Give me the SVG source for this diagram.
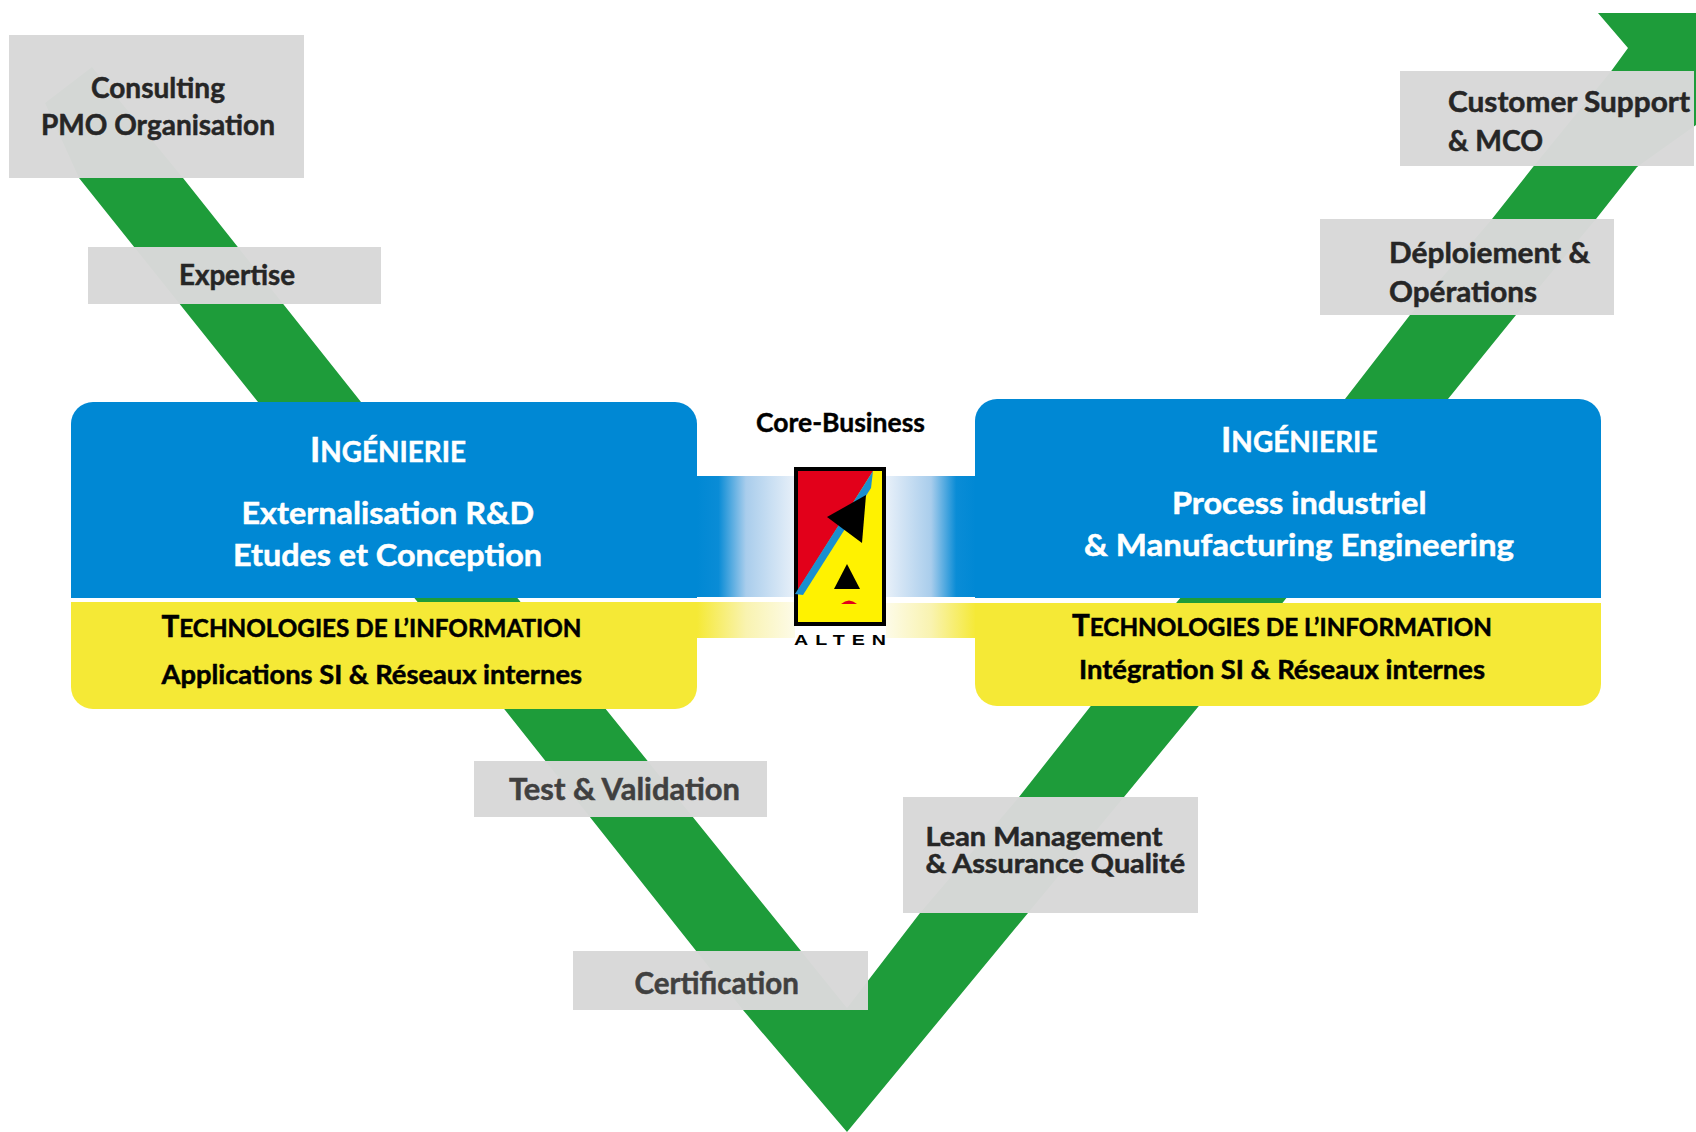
<svg xmlns="http://www.w3.org/2000/svg" width="1696" height="1132" viewBox="0 0 1696 1132">
<style>
text{font-family:"Lato","Carlito","Liberation Sans",sans-serif;font-weight:700;}
.box{fill:#d8d8d8;fill-opacity:.98;}
.bt{fill:#262626;stroke:#262626;stroke-width:.5px;font-size:29px;}
.lt{fill:#262626;stroke:#262626;stroke-width:.5px;font-size:26px;}
.gt{fill:#404040;stroke:#404040;stroke-width:.5px;font-size:31px;}
.w{fill:#fff;stroke:#fff;stroke-width:.5px;font-size:31px;}
.k{fill:#000;stroke:#000;stroke-width:.5px;font-size:26px;}
.h{fill:#fff;stroke:#fff;stroke-width:.5px;font-size:35px;}
.hs{font-size:28px;}
.t{fill:#000;stroke:#000;stroke-width:.5px;font-size:30px;}
.ts{font-size:24.5px;}
.blue{fill:#0088d4;}
.yel{fill:#f5e936;}
</style>
<defs>
<linearGradient id="bl" x1="0" x2="1" y1="0" y2="0"><stop offset="0" stop-color="#0088d4"/><stop offset=".22" stop-color="#0a8cd6"/><stop offset=".5" stop-color="#a9cdec"/><stop offset="1" stop-color="#e8f0f9"/></linearGradient>
<linearGradient id="br" x1="1" x2="0" y1="0" y2="0"><stop offset="0" stop-color="#0088d4"/><stop offset=".22" stop-color="#0a8cd6"/><stop offset=".5" stop-color="#a9cdec"/><stop offset="1" stop-color="#e8f0f9"/></linearGradient>
<linearGradient id="yl" x1="0" x2="1" y1="0" y2="0"><stop offset="0" stop-color="#f5e936"/><stop offset=".5" stop-color="#f9f3b0"/><stop offset="1" stop-color="#fdfbe8"/></linearGradient>
<linearGradient id="yr" x1="1" x2="0" y1="0" y2="0"><stop offset="0" stop-color="#f5e936"/><stop offset=".5" stop-color="#f9f3b0"/><stop offset="1" stop-color="#fdfbe8"/></linearGradient>
</defs>
<rect width="1696" height="1132" fill="#fff"/>
<g id="connectors">
<path id="v-arrow" fill="#1e9c3a" d="M92 67L45 103L79 178L258 402L416 600L505 710L743 1010L847 1132L1028 913L1124 797L1198 707L1448 399L1516 315L1596 219L1637 167L1696 125L1696 13L1598 13L1628 48L1612 70L1533 167L1492 219L1410 315L1345 399L1090 707L1019 797L920 913L847 1008L801 951L606.500 710L519 600L361 402L183 178Z"/>
</g>
<g id="band-links">
<rect x="697" y="476" width="98" height="121" fill="url(#bl)"/>
<rect x="886" y="476" width="90" height="121" fill="url(#br)"/>
<rect x="697" y="602" width="98" height="36" fill="url(#yl)"/>
<rect x="886" y="603" width="90" height="35" fill="url(#yr)"/>
</g>
<g id="panel-left-eng">
<path class="blue" d="M71 598V424a22 22 0 0 1 22-22H675a22 22 0 0 1 22 22V598Z"/>
<text class="h" x="310" y="462" textLength="156" lengthAdjust="spacingAndGlyphs">I<tspan class="hs">NGÉNIERIE</tspan></text>
<text class="w" x="241.500" y="524" textLength="292.500" lengthAdjust="spacingAndGlyphs">Externalisation R&amp;D</text>
<text class="w" x="233" y="566" textLength="309" lengthAdjust="spacingAndGlyphs">Etudes et Conception</text>
</g>
<g id="panel-left-it">
<path class="yel" d="M71 602H697V687a22 22 0 0 1-22 22H93a22 22 0 0 1-22-22Z"/>
<text class="t" x="161.500" y="637" textLength="420" lengthAdjust="spacingAndGlyphs">T<tspan class="ts">ECHNOLOGIES DE L’INFORMATION</tspan></text>
<text class="k" x="161.500" y="684" textLength="420.500" lengthAdjust="spacingAndGlyphs">Applications SI &amp; Réseaux internes</text>
</g>
<g id="panel-right-eng">
<path class="blue" d="M975 598V421a22 22 0 0 1 22-22H1579a22 22 0 0 1 22 22V598Z"/>
<text class="h" x="1221" y="452" textLength="156.500" lengthAdjust="spacingAndGlyphs">I<tspan class="hs">NGÉNIERIE</tspan></text>
<text class="w" x="1172" y="514" textLength="254.500" lengthAdjust="spacingAndGlyphs">Process industriel</text>
<text class="w" x="1084" y="556" textLength="430" lengthAdjust="spacingAndGlyphs">&amp; Manufacturing Engineering</text>
</g>
<g id="panel-right-it">
<path class="yel" d="M975 603H1601V684a22 22 0 0 1-22 22H997a22 22 0 0 1-22-22Z"/>
<text class="t" x="1072" y="636" textLength="420" lengthAdjust="spacingAndGlyphs">T<tspan class="ts">ECHNOLOGIES DE L’INFORMATION</tspan></text>
<text class="k" x="1079" y="679" textLength="406" lengthAdjust="spacingAndGlyphs">Intégration SI &amp; Réseaux internes</text>
</g>
<g id="logo">
<text x="756" y="432" fill="#000" stroke="#000" stroke-width=".4" font-size="26" textLength="169" lengthAdjust="spacingAndGlyphs">Core-Business</text>
<rect x="794" y="467" width="92" height="159" fill="#000"/>
<rect x="798" y="471" width="84" height="151" fill="#fff200"/>
<path fill="#e2001a" d="M798 471H873L798 590Z"/>
<path fill="#1a8fd0" d="M873 471L871 488L803 595L795 594Z"/>
<path fill="#000" d="M827 517L866 495L862 543Z"/>
<path fill="#000" d="M847 564L860 589H834Z"/>
<path fill="#e2001a" d="M841 604Q849 597 857 604Z"/>
<text x="794" y="645" fill="#000" style="font-family:'Liberation Sans',sans-serif" font-size="14" letter-spacing="5" textLength="99" lengthAdjust="spacingAndGlyphs">ALTEN</text>
</g>
<g id="box-consulting">
<rect class="box" x="9" y="35" width="295" height="143"/>
<text class="bt" x="91" y="98" textLength="134" lengthAdjust="spacingAndGlyphs">Consulting</text>
<text class="bt" x="41" y="135" textLength="234" lengthAdjust="spacingAndGlyphs">PMO Organisation</text>
</g>
<g id="box-expertise">
<rect class="box" x="88" y="247" width="293" height="57"/>
<text class="bt" x="179" y="285" textLength="116" lengthAdjust="spacingAndGlyphs">Expertise</text>
</g>
<g id="box-test">
<rect class="box" x="474" y="761" width="293" height="56"/>
<text class="gt" x="509" y="800" textLength="231" lengthAdjust="spacingAndGlyphs">Test &amp; Validation</text>
</g>
<g id="box-certification">
<rect class="box" x="573" y="951" width="295" height="59"/>
<text class="gt" x="634.500" y="994" textLength="164.500" lengthAdjust="spacingAndGlyphs">Certification</text>
</g>
<g id="box-lean">
<rect class="box" x="903" y="797" width="295" height="116"/>
<text class="lt" x="925.500" y="846" textLength="237" lengthAdjust="spacingAndGlyphs">Lean Management</text>
<text class="lt" x="925.500" y="873" textLength="259.500" lengthAdjust="spacingAndGlyphs">&amp; Assurance Qualité</text>
</g>
<g id="box-deploiement">
<rect class="box" x="1320" y="219" width="294" height="96"/>
<text class="bt" x="1389" y="263" textLength="201" lengthAdjust="spacingAndGlyphs">Déploiement &amp;</text>
<text class="bt" x="1389" y="302" textLength="148" lengthAdjust="spacingAndGlyphs">Opérations</text>
</g>
<g id="box-customer">
<rect class="box" x="1400" y="71" width="294" height="95"/>
<text class="bt" x="1448" y="112" textLength="242" lengthAdjust="spacingAndGlyphs">Customer Support</text>
<text class="bt" x="1448" y="151" textLength="95" lengthAdjust="spacingAndGlyphs">&amp; MCO</text>
</g>
</svg>
